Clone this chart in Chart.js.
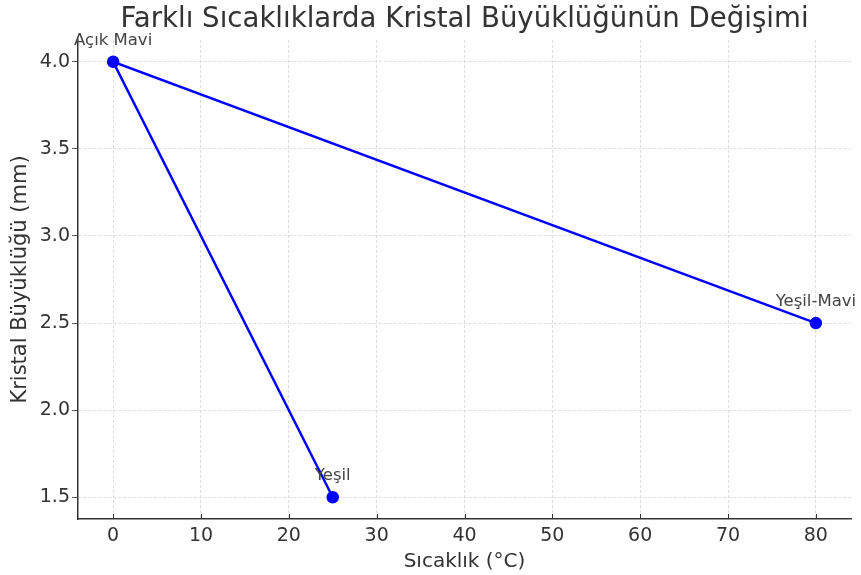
<!DOCTYPE html>
<html>
<head>
<meta charset="utf-8">
<script src="https://cdn.jsdelivr.net/npm/chart.js@4"></script>
<style>
  html, body { margin: 0; padding: 0; background: #fff; }
  #wrap { width: 861px; height: 575px; }
</style>
</head>
<body>
<div id="wrap"><canvas id="chart" width="861" height="575"></canvas></div>
<script>
// data (order as the line is drawn)
const colorNames = ["Yeşil", "Açık Mavi", "Yeşil-Mavi"];
const temperatures = [25, 0, 80];
const crystalSizes = [1.5, 4.0, 2.5];
const xTicks = [0, 10, 20, 30, 40, 50, 60, 70, 80];
const yTicks = [1.5, 2.0, 2.5, 3.0, 3.5, 4.0];

const textColor = "#333333";
const fontFamily = "'DejaVu Sans', sans-serif";

// point labels + inward x tick marks
const extras = {
  id: "extras",
  afterDatasetsDraw(chart) {
    const ctx = chart.ctx;
    const meta = chart.getDatasetMeta(0);
    ctx.save();
    ctx.font = "16.5px " + fontFamily;
    ctx.fillStyle = "#444444";
    ctx.textAlign = "center";
    ctx.textBaseline = "alphabetic";
    meta.data.forEach((pt, i) => {
      ctx.fillText(colorNames[i], pt.x, pt.y - 17);
    });
    const xs = chart.scales.x;
    const bottom = chart.chartArea.bottom;
    ctx.strokeStyle = textColor;
    ctx.lineWidth = 1;
    xTicks.forEach(v => {
      const px = Math.round(xs.getPixelForValue(v)) + 0.5;
      ctx.beginPath();
      ctx.moveTo(px, bottom);
      ctx.lineTo(px, bottom - 5);
      ctx.stroke();
    });
    ctx.restore();
  }
};

new Chart(document.getElementById("chart"), {
  type: "scatter",
  data: {
    datasets: [{
      data: temperatures.map((t, i) => ({ x: t, y: crystalSizes[i] })),
      showLine: true,
      borderColor: "#0000ff",
      backgroundColor: "#0000ff",
      borderWidth: 2.5,
      pointRadius: 5,
      pointHoverRadius: 5,
      tension: 0
    }]
  },
  options: {
    responsive: false,
    animation: false,
    layout: { padding: { left: 0, right: 10, top: 0, bottom: 0 } },
    plugins: {
      legend: { display: false },
      tooltip: { enabled: false },
      title: {
        display: true,
        fullSize: false,
        text: "Farklı Sıcaklıklarda Kristal Büyüklüğünün Değişimi",
        color: textColor,
        font: { family: fontFamily, size: 27.6, weight: "normal", lineHeight: 1.2 },
        padding: { top: 3, bottom: 3.9 }
      }
    },
    scales: {
      x: {
        type: "linear",
        min: -4,
        max: 84,
        afterBuildTicks: axis => { axis.ticks = xTicks.map(v => ({ value: v })); },
        afterFit: axis => { axis.height = 56; },
        grid: { color: "#d4d4d4", lineWidth: 0.8, drawTicks: false },
        border: { display: true, color: textColor, width: 1.5, dash: [3, 2] },
        ticks: {
          color: textColor,
          padding: 6,
          maxRotation: 0,
          font: { family: fontFamily, size: 19 }
        },
        title: {
          display: true,
          text: "Sıcaklık (°C)",
          color: textColor,
          font: { family: fontFamily, size: 20 },
          padding: { top: 0, bottom: 1 }
        }
      },
      y: {
        type: "linear",
        min: 1.375,
        max: 4.125,
        afterBuildTicks: axis => { axis.ticks = yTicks.map(v => ({ value: v })); },
        afterFit: axis => { axis.width = 78; },
        grid: { color: "#d4d4d4", lineWidth: 0.8, drawTicks: true, tickLength: 6, tickColor: textColor },
        border: { display: true, color: textColor, width: 1.5, dash: [3, 2] },
        ticks: {
          color: textColor,
          padding: 2,
          font: { family: fontFamily, size: 19 },
          callback: v => Number(v).toFixed(1)
        },
        title: {
          display: true,
          text: "Kristal Büyüklüğü (mm)",
          color: textColor,
          font: { family: fontFamily, size: 21 },
          padding: { top: 8, bottom: 0 }
        }
      }
    }
  },
  plugins: [extras]
});
</script>
</body>
</html>
